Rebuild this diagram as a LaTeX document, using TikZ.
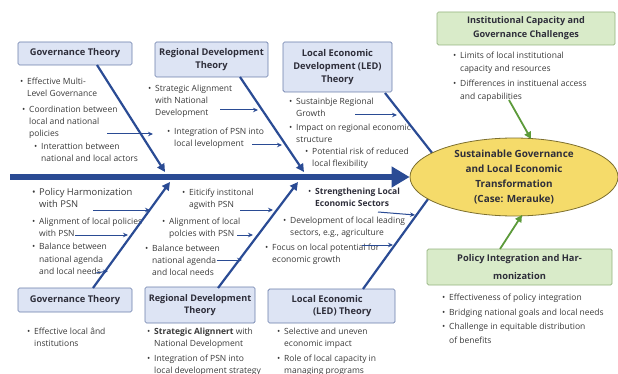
\documentclass[tikz,border=0pt]{standalone}
\usepackage{fontspec}
\setmainfont{Open Sans}
\usetikzlibrary{arrows.meta,shapes.geometric}
\definecolor{bonecol}{HTML}{2A4B94}
\definecolor{boxfill}{HTML}{DDE4F4}
\definecolor{boxline}{HTML}{6A7DAA}
\definecolor{titletext}{HTML}{2E2E3A}
\definecolor{bodytext}{HTML}{3A3A3A}
\definecolor{greenfill}{HTML}{D9EBC9}
\definecolor{greenline}{HTML}{94B37F}
\definecolor{greenarrow}{HTML}{5C9A3A}
\definecolor{goalfill}{HTML}{F5DB6A}
\definecolor{goalline}{HTML}{7D6F2E}
\newcommand{\itm}{\makebox[7pt][l]{\textbullet}}
\newcommand{\ind}{\hspace*{7pt}}
\tikzset{
  theory/.style={draw=boxline, fill=boxfill, rounded corners=1.5pt, line width=0.7pt,
    align=center, text=titletext, font=\fontsize{9.3}{13.5}\selectfont\bfseries, inner sep=2pt},
  issue/.style={theory, draw=greenline, fill=greenfill},
  items/.style={anchor=north west, inner sep=0pt, align=left, text=bodytext,
    font=\fontsize{8.5}{11.8}\selectfont},
  bone/.style={draw=bonecol, line width=2.2pt, -{Triangle[length=8pt,width=8pt]}},
  twig/.style={draw=bonecol, line width=1pt, -{Stealth[length=5pt,width=4.5pt]}},
  feed/.style={draw=greenarrow, line width=1.8pt, -{Triangle[length=7pt,width=7pt]}},
  goalshape/.style={ellipse, draw=goalline, fill=goalfill, line width=0.8pt, minimum width=208pt,
    minimum height=78pt, inner sep=0pt, align=center, text=titletext,
    font=\fontsize{9.9}{15}\selectfont\bfseries}
}

\begin{document}
\begin{tikzpicture}[x=1pt,y=-1pt]
  \useasboundingbox (0,0) rectangle (618,374);
  % theory boxes
  \node (gov1) [theory, minimum width=114pt, minimum height=23pt] at (75,53.5) {Governance Theory};
  \node (reg1) [theory, minimum width=113pt, minimum height=35pt] at (211.5,59.5) {Regional Development\\Theory};
  \node (led1) [theory, minimum width=109pt, minimum height=50pt, font=\fontsize{9.3}{13}\selectfont\bfseries] at (337.5,67) {Local Economic\\Development (LED)\\Theory};
  \node (gov2) [theory, minimum width=114pt, minimum height=24pt] at (75,300) {Governance Theory};
  \node (reg2) [theory, minimum width=110pt, minimum height=36pt, font=\fontsize{9.1}{12}\selectfont\bfseries] at (200,305) {Regional Development\\Theory};
  \node (led2) [theory, minimum width=127pt, minimum height=34pt, align=left, font=\fontsize{9.3}{12}\selectfont\bfseries] at (331.5,306) {Local Economic\\\hspace*{2.3em}(LED) Theory};
  \node (cap) [issue, minimum width=178pt, minimum height=33pt, font=\fontsize{9.1}{14}\selectfont\bfseries] at (526,28.5) {Institutional Capacity and\\Governance Challenges};
  \node (pol) [issue, minimum width=185pt, minimum height=36pt, font=\fontsize{9.3}{18}\selectfont\bfseries] at (519.5,267) {Policy Integration and Har-\\monization};
  % upper items
  \node (ua1) [items] at (20,78) {\itm Effective Multi-\\\ind Level Governance};
  \node (ua2) [items] at (22,106) {\itm Coordination between\\\ind local and national\\\ind policies};
  \node (ua3) [items] at (34,143) {\itm Interattion between\\\ind national and local actors};
  \node (ub1) [items] at (148,85) {\itm Strategic Alignment\\\ind with National\\\ind Development};
  \node (ub2) [items] at (167,128) {\itm Integration of PSN into\\\ind local levelopment};
  \node (uc1) [items] at (289,98) {\itm Sustainbje Regional\\\ind Growth};
  \node (uc2) [items] at (289,124) {\itm Impact on regional economic\\\ind structure};
  \node (uc3) [items] at (305,148) {\itm Potential risk of reduced\\\ind local flexibility};
  % lower items
  \node (la1) [items, font=\fontsize{9.4}{12}\selectfont] at (32,188) {\itm Policy Harmonization\\\ind with PSN};
  \node (la2) [items] at (32,218) {\itm Alignment of local policies\\\ind with PSN};
  \node (la3) [items, font=\fontsize{8.5}{12.5}\selectfont] at (32,243) {\itm Balance between\\\ind national agenda\\\ind and local needs};
  \node (lb1) [items] at (182,189) {\itm Eiticify institonal\\\ind agwith PSN};
  \node (lb2) [items] at (162,218) {\itm Alignment of local\\\ind polcies with PSN};
  \node (lb3) [items] at (145,245) {\itm Balance between\\\ind national agenda\\\ind and local needs};
  \node (lc1) [items, text=titletext] at (308,188) {\itm \textbf{Strengthening Local}\\\ind \textbf{Economic Sectors}};
  \node (lc2) [items] at (283,217) {\itm Development of local leading\\\ind sectors, e.g., agriculture};
  \node (lc3) [items] at (265,244) {\itm Focus on local potential for\\\ind economic growth};
  % bottom items
  \node (ld1) [items] at (27,328) {\itm Effective local ând\\\ind institutions};
  \node (le1) [items] at (147,328) {\itm \textbf{Strategic Alignnert} with\\\ind National Development};
  \node (le2) [items] at (147,355) {\itm Integration of PSN into\\\ind local development strategy};
  \node (lf1) [items] at (277,328) {\itm Selective and uneven\\\ind economic impact};
  \node (lf2) [items] at (277,355) {\itm Role of local capacity in\\\ind managing programs};
  % right items
  \node (ra1) [items, font=\fontsize{8.5}{13}\selectfont] at (453,52) {\itm Limits of local institutional\\\ind capacity and resources};
  \node (ra2) [items, font=\fontsize{8.5}{13}\selectfont] at (453,80) {\itm Differences in instituenal access\\\ind and capabilities};
  \node (rb1) [items, font=\fontsize{8.5}{14.3}\selectfont] at (442,294) {\itm Effectiveness of policy integration\\\itm Bridging national goals and local needs\\\itm Challenge in equitable distribution\\\ind of benefits};
  % spine and bones
  \coordinate (tail) at (10,177);
  \coordinate (u1) at (97,65);   \coordinate (u1e) at (165,172);
  \coordinate (u2) at (240,77);  \coordinate (u2e) at (304,172);
  \coordinate (u3) at (385,93);  \coordinate (u3e) at (440,163);
  \coordinate (d1) at (93,288);  \coordinate (d1e) at (170,182);
  \coordinate (d2) at (218,288); \coordinate (d2e) at (298,182);
  \coordinate (d3) at (363,289); \coordinate (d3e) at (436,188);
  \draw[bone] (u1) -- (u1e);
  \draw[bone] (u2) -- (u2e);
  \draw[bone, -] (u3) -- (u3e);
  \draw[bone] (d1) -- (d1e);
  \draw[bone] (d2) -- (d2e);
  \draw[bone, -] (d3) -- (d3e);
  % goal
  \node (goal) [goalshape] at (514,177)
    {Sustainable Governance\\and Local Economic\\Transformation\\(Case: Merauke)};
  \draw[draw=bonecol, line width=6.5pt, -{Triangle[length=18pt,width=20pt]}] (tail) -- (goal.west);
  % small arrows
  \coordinate (a1) at (107,134); \coordinate (a1e) at (153,134);
  \coordinate (a2) at (220,110); \coordinate (a2e) at (258,110);
  \coordinate (a3) at (252,145); \coordinate (a3e) at (282,145);
  \coordinate (a4) at (355,115); \coordinate (a4e) at (397,115);
  \coordinate (b1) at (93,210);  \coordinate (b1e) at (150,210);
  \coordinate (b2) at (75,235);  \coordinate (b2e) at (128,235);
  \coordinate (b3) at (96,273);  \coordinate (b3e) at (108,271);
  \coordinate (b4) at (240,210); \coordinate (b4e) at (273,210);
  \coordinate (b5) at (237,235); \coordinate (b5e) at (253,235);
  \coordinate (b6) at (217,260); \coordinate (b6e) at (242,260);
  \coordinate (b7) at (378,212); \coordinate (b7e) at (415,215);
  \coordinate (b8) at (362,245); \coordinate (b8e) at (393,245);
  \foreach \s in {a1,a2,a3,a4,b1,b2,b3,b4,b5,b6,b7,b8}
    \draw[twig] (\s) -- (\s e);
  % green feeds
  \coordinate (g1) at (509,100); \coordinate (g1e) at (531,139);
  \coordinate (g2) at (500,249); \coordinate (g2e) at (522,215);
  \draw[feed] (g1) -- (g1e);
  \draw[feed] (g2) -- (g2e);
\end{tikzpicture}
\end{document}
